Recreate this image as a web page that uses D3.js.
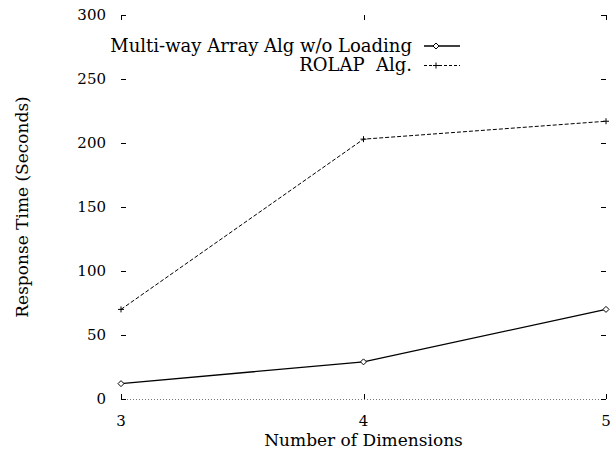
<!DOCTYPE html>
<html>
<head>
<meta charset="utf-8">
<script src="https://cdn.jsdelivr.net/npm/d3@7"></script>
<style>
  body { margin: 0; background: #fff; }
  text { font-family: "DejaVu Serif", "Liberation Serif", serif; fill: #000; }
</style>
</head>
<body>
<svg id="chart" width="616" height="450"></svg>
<script>
// data
var dims = [3, 4, 5];
var multiway = [12, 29, 70];
var rolap = [70, 203, 217];
var yTicks = [0, 50, 100, 150, 200, 250, 300];
var seriesNames = ["Multi-way Array Alg w/o Loading", "ROLAP\u00a0\u00a0Alg."];

var svg = d3.select("#chart"),
  pLeft = 121, pRight = 606, pTop = 15, pBottom = 399;

var x = d3.scaleLinear().domain([3, 5]).range([pLeft, pRight]);
var y = d3.scaleLinear().domain([0, 300]).range([pBottom, pTop]);

// zero line (dotted)
svg.append("line")
  .attr("x1", pLeft).attr("x2", pRight)
  .attr("y1", y(0) + 0.5).attr("y2", y(0) + 0.5)
  .attr("stroke", "#777").attr("stroke-width", 1)
  .attr("stroke-dasharray", "1,2");

// y ticks, both sides
var tl = 5;
yTicks.forEach(function (v) {
  var yy = Math.round(y(v)) + 0.5;
  svg.append("line").attr("x1", pLeft).attr("x2", pLeft + tl)
    .attr("y1", yy).attr("y2", yy).attr("stroke", "#000");
  svg.append("line").attr("x1", pRight - tl).attr("x2", pRight)
    .attr("y1", yy).attr("y2", yy).attr("stroke", "#000");
  svg.append("text").attr("x", 106).attr("y", y(v))
    .attr("dy", "0.35em").attr("text-anchor", "end")
    .style("font-size", "15px").text(v);
});

// x ticks, top and bottom
dims.forEach(function (v) {
  var xx = Math.round(x(v)) + 0.5;
  svg.append("line").attr("x1", xx).attr("x2", xx)
    .attr("y1", pBottom).attr("y2", pBottom - tl).attr("stroke", "#000");
  svg.append("line").attr("x1", xx).attr("x2", xx)
    .attr("y1", pTop).attr("y2", pTop + tl).attr("stroke", "#000");
  svg.append("text").attr("x", x(v)).attr("y", 426)
    .attr("text-anchor", "middle")
    .style("font-size", "15px").text(v);
});

// axis titles
svg.append("text").attr("x", x(4)).attr("y", 446)
  .attr("text-anchor", "middle").style("font-size", "17px")
  .text("Number of Dimensions");
svg.append("text")
  .attr("transform", "translate(28," + y(150) + ") rotate(-90)")
  .attr("text-anchor", "middle").style("font-size", "17px")
  .text("Response Time (Seconds)");

var line = d3.line()
  .x(function (d, i) { return x(dims[i]); })
  .y(function (d) { return y(d); });

function diamond(g, cx, cy) {
  g.append("path")
    .attr("d", "M" + cx + "," + (cy - 3) + "L" + (cx + 3) + "," + cy +
      "L" + cx + "," + (cy + 3) + "L" + (cx - 3) + "," + cy + "Z")
    .attr("fill", "#fff").attr("stroke", "#000").attr("stroke-width", 1);
}
function plus(g, cx, cy) {
  g.append("path")
    .attr("d", "M" + (cx - 3) + "," + cy + "H" + (cx + 3) +
      "M" + cx + "," + (cy - 3) + "V" + (cy + 3))
    .attr("stroke", "#000").attr("stroke-width", 1);
}

// ROLAP series
svg.append("path").datum(rolap).attr("d", line)
  .attr("fill", "none").attr("stroke", "#000").attr("stroke-width", 1)
  .attr("stroke-dasharray", "4,2");
rolap.forEach(function (v, i) { plus(svg, x(dims[i]), y(v)); });

// multi-way series
svg.append("path").datum(multiway).attr("d", line)
  .attr("fill", "none").attr("stroke", "#000").attr("stroke-width", 1.3);
multiway.forEach(function (v, i) { diamond(svg, x(dims[i]), y(v)); });

// legend
var lx1 = 424, lx2 = 460, lm = 436;
svg.append("text").attr("x", 412).attr("y", 46).attr("dy", "0.35em")
  .attr("text-anchor", "end").style("font-size", "18px").text(seriesNames[0]);
svg.append("line").attr("x1", lx1).attr("x2", lx2).attr("y1", 46).attr("y2", 46)
  .attr("stroke", "#000").attr("stroke-width", 1.3);
diamond(svg, lm, 46);

svg.append("text").attr("x", 412).attr("y", 65).attr("dy", "0.35em")
  .attr("text-anchor", "end").style("font-size", "18px").text(seriesNames[1]);
svg.append("line").attr("x1", lx1).attr("x2", lx2).attr("y1", 65.5).attr("y2", 65.5)
  .attr("stroke", "#000").attr("stroke-width", 1).attr("stroke-dasharray", "3,2");
plus(svg, lm, 65.5);
</script>
</body>
</html>
